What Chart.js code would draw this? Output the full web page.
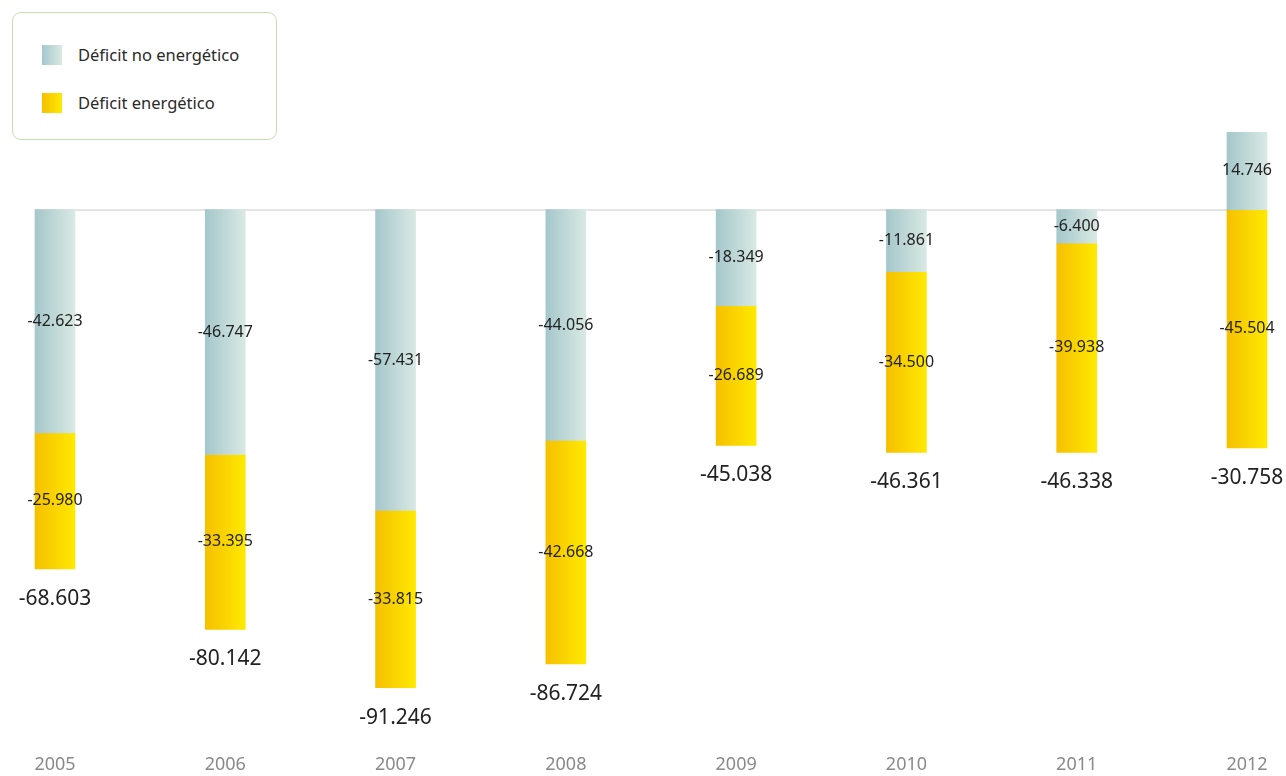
<!DOCTYPE html>
<html>
<head>
<meta charset="utf-8">
<script src="https://cdn.jsdelivr.net/npm/chart.js@4.4.1/dist/chart.umd.min.js"></script>
<style>
  html, body { margin: 0; padding: 0; background: #fff; }
  #wrap { position: relative; width: 1286px; height: 776px; }
  #legend {
    position: absolute; left: 12px; top: 12px; width: 263px; height: 126px;
    border: 1.5px solid #c8dcb8; border-radius: 9px; background: #fff;
    font-family: "Noto Sans", sans-serif; font-size: 16.5px; color: #2a2a2a;
  }
  .item { position: absolute; left: 29px; height: 20px; line-height: 20px; }
  .sw { display: inline-block; width: 20px; height: 20px; vertical-align: top; margin-right: 16px; }
</style>
</head>
<body>
<div id="wrap">
  <canvas id="chart1" width="1286" height="776"></canvas>
  <div id="legend"></div>
</div>
<script>
// millones de euros
const years = ["2005", "2006", "2007", "2008", "2009", "2010", "2011", "2012"];
const noEnergetico = [-42623, -46747, -57431, -44056, -18349, -11861, -6400, 14746];
const energetico = [-25980, -33395, -33815, -42668, -26689, -34500, -39938, -45504];
const totales = [-68603, -80142, -91246, -86724, -45038, -46361, -46338, -30758];
const seriesNames = ["Déficit no energético", "Déficit energético"];

const tealColors = ["#a5c7cb", "#d9e9e3"];
const yellowColors = ["#f5c000", "#ffe900"];

function fmt(v) {
  var s = Math.abs(v).toString().replace(/\B(?=(\d{3})+(?!\d))/g, ".");
  return (v < 0 ? "-" : "") + s;
}

function barGradient(cols) {
  return function(context) {
    var chart = context.chart;
    var xs = chart.scales.x;
    if (!xs || !chart.chartArea || context.dataIndex === undefined) return cols[0];
    var x = xs.getPixelForValue(context.dataIndex);
    var g = chart.ctx.createLinearGradient(x - 20, 0, x + 20, 0);
    g.addColorStop(0, cols[0]);
    g.addColorStop(1, cols[1]);
    return g;
  };
}

// legend
var legend = document.getElementById("legend");
[tealColors, yellowColors].forEach(function(cols, i) {
  var d = document.createElement("div");
  d.className = "item";
  d.style.top = (32 + i * 48) + "px";
  d.innerHTML = '<span class="sw" style="background:linear-gradient(to right,' + cols[0] + ',' + cols[1] + ')"></span>' + seriesNames[i];
  legend.appendChild(d);
});

const labelsPlugin = {
  id: "labelsPlugin",
  beforeDatasetsDraw: function(chart) {
    var ctx = chart.ctx;
    var bars = chart.getDatasetMeta(0).data;
    var y0 = chart.scales.y.getPixelForValue(0);
    ctx.save();
    ctx.strokeStyle = "#c9c9c9";
    ctx.lineWidth = 1;
    ctx.beginPath();
    ctx.moveTo(bars[0].x - bars[0].width / 2, y0 + 0.5);
    ctx.lineTo(bars[bars.length - 1].x, y0 + 0.5);
    ctx.stroke();
    ctx.restore();
  },
  afterDatasetsDraw: function(chart) {
    var ctx = chart.ctx;
    ctx.save();
    ctx.textAlign = "center";
    ctx.textBaseline = "middle";
    ctx.fillStyle = "#222";
    ctx.font = "16px 'Noto Sans'";
    chart.data.datasets.forEach(function(ds, di) {
      chart.getDatasetMeta(di).data.forEach(function(bar, i) {
        ctx.fillText(fmt(ds.data[i]), bar.x, (bar.y + bar.base) / 2);
      });
    });
    ctx.font = "21px 'Noto Sans'";
    for (var i = 0; i < totales.length; i++) {
      var bottom = 0, x = 0;
      chart.data.datasets.forEach(function(ds, di) {
        var bar = chart.getDatasetMeta(di).data[i];
        bottom = Math.max(bottom, bar.y, bar.base);
        x = bar.x;
      });
      ctx.fillText(fmt(totales[i]), x, bottom + 30);
    }
    ctx.restore();
  }
};

var ctx = document.getElementById("chart1").getContext("2d");
var chart = new Chart(ctx, {
  type: "bar",
  data: {
    labels: years,
    datasets: [
      { label: seriesNames[0], data: noEnergetico, backgroundColor: barGradient(tealColors), barThickness: 40, clip: false },
      { label: seriesNames[1], data: energetico, backgroundColor: barGradient(yellowColors), barThickness: 40, clip: false }
    ]
  },
  options: {
    responsive: false,
    animation: false,
    layout: { padding: { left: 55, right: 39, top: 0, bottom: 0 } },
    plugins: { legend: { display: false }, tooltip: { enabled: false } },
    scales: {
      x: {
        stacked: true,
        offset: false,
        grid: { display: false, drawTicks: false },
        border: { display: false },
        ticks: { color: "#8a8a8a", font: { family: "Noto Sans", size: 18 }, padding: 0, maxRotation: 0, autoSkip: false }
      },
      y: {
        stacked: true,
        display: false,
        min: -104000,
        max: 40000
      }
    }
  },
  plugins: [labelsPlugin]
});
</script>
</body>
</html>
